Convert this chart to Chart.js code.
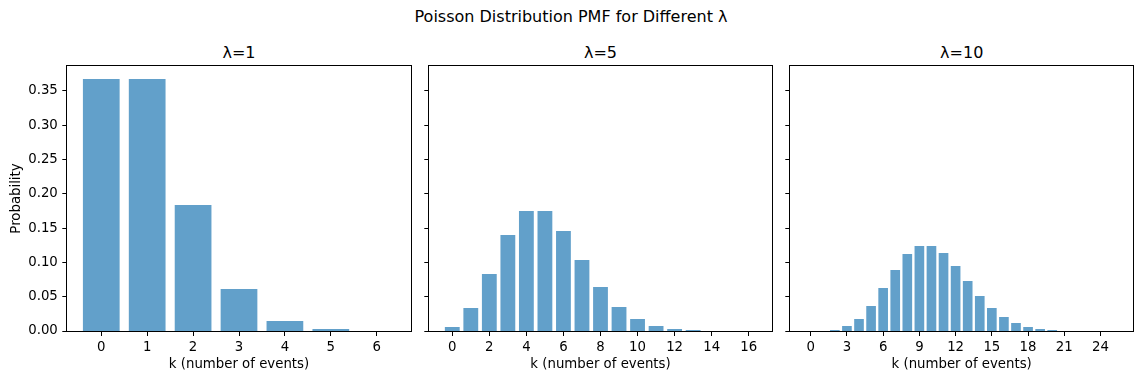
<!DOCTYPE html>
<html><head><meta charset="utf-8">
<script src="https://cdn.jsdelivr.net/npm/chart.js@4.4.1/dist/chart.umd.min.js"></script>
<style>
body{margin:0;background:#fff;width:1142px;height:381px;position:relative;overflow:hidden;font-family:"DejaVu Sans",sans-serif;}
canvas{position:absolute;left:0;top:0;}
.t{position:absolute;white-space:nowrap;transform:translate(-50%,-50%);color:#000;line-height:1;font-size:16px;}
</style></head><body>
<div class="t" style="left:571px;top:17.3px">Poisson Distribution PMF for Different λ</div>
<div class="t" style="left:239px;top:52.5px">λ=1</div>
<div class="t" style="left:600.5px;top:52.5px">λ=5</div>
<div class="t" style="left:961.7px;top:52.5px">λ=10</div>
<canvas id="c0" width="1142" height="381"></canvas>
<canvas id="c1" width="1142" height="381"></canvas>
<canvas id="c2" width="1142" height="381"></canvas>
<script>
// ---- data ----
const k1 = [0,1,2,3,4,5,6];
const p1 = [0.3679,0.3679,0.1839,0.0613,0.0153,0.0031,0.0005];
const k5 = [0,1,2,3,4,5,6,7,8,9,10,11,12,13,14,15,16];
const p5 = [0.0067,0.0337,0.0842,0.1404,0.1755,0.1755,0.1462,0.1044,0.0653,0.0363,0.0181,0.0082,0.0034,0.0013,0.0005,0.0002,0.00005];
const k10 = [0,1,2,3,4,5,6,7,8,9,10,11,12,13,14,15,16,17,18,19,20,21,22,23,24,25];
const p10 = [0.00005,0.00045,0.00227,0.00757,0.01892,0.03783,0.06306,0.09008,0.11260,0.12511,0.12511,0.11374,0.09478,0.07291,0.05208,0.03472,0.02170,0.01276,0.00709,0.00373,0.00187,0.00089,0.00040,0.00018,0.00007,0.00003];
const xTicks1 = [0,1,2,3,4,5,6];
const xTicks5 = [0,2,4,6,8,10,12,14,16];
const xTicks10 = [0,3,6,9,12,15,18,21,24];
const yTicks = [0,0.05,0.10,0.15,0.20,0.25,0.30,0.35];
const yMax = 0.3863;

// ---- layout ----
const panels = [
  {id:'c0', k:k1, p:p1, ticks:xTicks1, left:67.3, right:410.7, yW:67.3, ylab:true},
  {id:'c1', k:k5, p:p5, ticks:xTicks5, left:429.3, right:771.7, yW:9.3, ylab:false},
  {id:'c2', k:k10, p:p10, ticks:xTicks10, left:790.3, right:1133, yW:10.3, ylab:false}
];
const TOP = 66, BOTTOM = 331, W = 1142, H = 381;

Chart.defaults.font.family = '"DejaVu Sans", sans-serif';
Chart.defaults.font.size = 13.3;
Chart.defaults.color = '#000';

const frame = {id:'frame', afterDraw(c){
  const a=c.chartArea, ctx=c.ctx;
  ctx.save(); ctx.strokeStyle='#000'; ctx.lineWidth=1;
  const l=Math.round(a.left)-0.5, t=Math.round(a.top)-0.5, r=Math.round(a.right)+0.5, b=Math.round(a.bottom)+0.5;
  ctx.strokeRect(l,t,r-l,b-t);
  ctx.restore();
}};
// pixel snapping of bar tops (like matplotlib), so sub-pixel bars stay visible
const snap = {id:'snap', beforeDatasetsDraw(c){
  c.getDatasetMeta(0).data.forEach(el => {
    const base = Math.round(el.base);
    const h = el.base - el.y;
    const nh = h < 0.25 ? 0 : Math.max(1, Math.round(h));
    el.base = base; el.y = base - nh;
  });
}};

panels.forEach(pn => {
  const lo = pn.k[0]-0.4, hi = pn.k[pn.k.length-1]+0.4, m = (hi-lo)*0.05;
  new Chart(document.getElementById(pn.id), {
    type:'bar',
    data:{datasets:[{
      data: pn.k.map((k,i)=>({x:k, y:pn.p[i]})),
      backgroundColor:'rgba(31,119,180,0.7)',
      borderWidth:0,
      barPercentage:0.8,
      categoryPercentage:1.0
    }]},
    options:{
      responsive:false, animation:false,
      layout:{padding:{left:pn.left-pn.yW, right:W-pn.right, top:TOP, bottom:0}},
      plugins:{legend:{display:false}, tooltip:{enabled:false}, title:{display:false}},
      scales:{
        x:{
          type:'linear', offset:false, min:lo-m, max:hi+m,
          afterBuildTicks: s => { s.ticks = pn.ticks.map(v=>({value:v})); },
          afterFit: s => { s.height = H-BOTTOM; },
          ticks:{autoSkip:false, maxRotation:0, padding:4, callback:v=>String(v)},
          grid:{offset:false, drawOnChartArea:false, drawTicks:true, tickLength:5, color:'#000', lineWidth:1},
          border:{display:false},
          title:{display:true, text:'k (number of events)', padding:{top:0,bottom:8}}
        },
        y:{
          type:'linear', min:0, max:yMax,
          afterBuildTicks: s => { s.ticks = yTicks.map(v=>({value:v})); },
          afterFit: s => { s.width = pn.yW; },
          ticks:{autoSkip:false, padding:4.5, callback:v=> pn.ylab ? v.toFixed(2) : ''},
          grid:{offset:false, drawOnChartArea:false, drawTicks:true, tickLength:5, color:'#000', lineWidth:1},
          border:{display:false},
          title:{display:pn.ylab, text:'Probability', padding:{top:8.5,bottom:0}}
        }
      }
    },
    plugins:[snap, frame]
  });
});
</script>
</body></html>
